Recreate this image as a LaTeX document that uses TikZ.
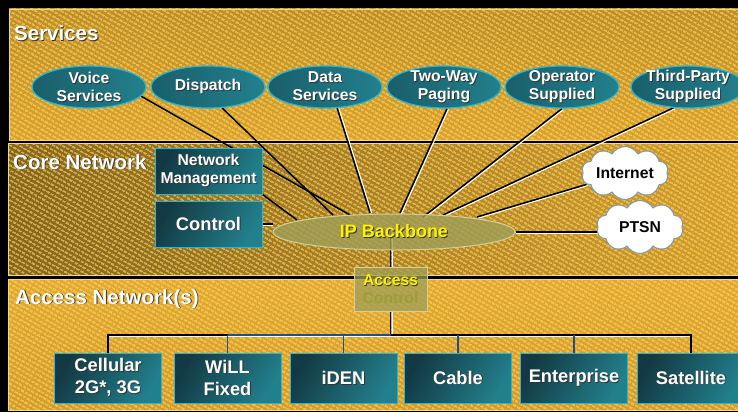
\documentclass[tikz,border=0pt]{standalone}
\usepackage{fontspec}
\setmainfont{Liberation Sans}
\usetikzlibrary{shapes.geometric,shapes.symbols,patterns.meta,calc}

% palette
\definecolor{svcTop}{HTML}{BE8E24}
\definecolor{svcBot}{HTML}{DCA22A}
\definecolor{coreL}{HTML}{85651A}
\definecolor{coreR}{HTML}{D69E2A}
\definecolor{accTop}{HTML}{E3A92E}
\definecolor{accBot}{HTML}{D49C28}
\definecolor{stripe}{HTML}{FFD458}
\definecolor{panelEdge}{HTML}{F2D98A}
\definecolor{tealDark}{HTML}{133A44}
\definecolor{tealLight}{HTML}{22808C}
\definecolor{tealSvcL}{HTML}{195F6B}
\definecolor{tealSvcR}{HTML}{22808C}
\definecolor{cyanEdge}{HTML}{27B6D6}
\definecolor{oliveFill}{HTML}{9E9E58}
\definecolor{oliveEdge}{HTML}{D0D09A}
\definecolor{cloudEdge}{HTML}{7C9AAA}
\definecolor{busBlue}{HTML}{1F4F8C}
\definecolor{dimText}{HTML}{9C9C3C}

\pgfdeclarelayer{panels}
\pgfdeclarelayer{wires}
\pgfsetlayers{panels,wires,main}

% text with a small drop shadow
\newcommand\shd[1]{\leavevmode\rlap{\kern0.9pt\raisebox{-0.9pt}{\textcolor{black!80}{#1}}}#1}
\newcommand\ftitle{\fontsize{20.5}{24}\selectfont\bfseries}
\newcommand\fsvc{\fontsize{15.7}{18}\selectfont\bfseries}
\newcommand\fmid{\fontsize{18.3}{22}\selectfont\bfseries}
\newcommand\fbb{\fontsize{18}{20}\selectfont\bfseries}

\tikzset{
  paneledge/.style={draw=panelEdge, line width=0.8pt},
  stripes/.style={pattern={Lines[angle=-30,distance=4pt,line width=1.6pt]}, pattern color=stripe, fill opacity=0.65},
  title/.style={anchor=base west, text=white, font=\ftitle, inner sep=0pt},
  svc/.style={ellipse, draw=cyanEdge, line width=1.2pt, left color=tealSvcL, right color=tealSvcR,
    minimum width=114pt, minimum height=42pt, inner sep=0pt},
  svctext/.style={text=white, font=\fsvc, align=center, inner sep=0pt},
  tealbox/.style={rectangle, draw=cyanEdge, line width=1pt, left color=tealDark, right color=tealLight,
    shading angle=60, minimum width=107pt, inner sep=0pt, text=white, align=center},
  cloudnode/.style={cloud, cloud puffs=10, cloud puff arc=120, aspect=1.6, draw=cloudEdge, line width=1pt,
    fill=white, minimum width=87pt, minimum height=53pt, inner sep=0pt},
  cloudtext/.style={text=black, font=\fsvc, inner sep=0pt},
  wire/.style={draw=black, line width=1.5pt},
  bluewire/.style={draw=busBlue, line width=1.5pt},
  hl/.style={preaction={draw=white, line width=1.2pt, transform canvas={xshift=1.3pt, yshift=-1.0pt}}},
  hlr/.style={preaction={draw=white, line width=1.2pt, transform canvas={xshift=1.6pt}}},
  hlb/.style={preaction={draw=white, line width=1.2pt, transform canvas={yshift=-1.6pt}}},
}

\begin{document}
\begin{tikzpicture}[x=1pt,y=-1pt]
\useasboundingbox (0,0) rectangle (738,412);

% ---------- background bands ----------
\begin{pgfonlayer}{panels}
  \fill[black] (0,0) rectangle (738,412);
  % services
  \shade[top color=svcTop, bottom color=svcBot] (9,9) rectangle (746,140);
  \fill[stripes] (9,9) rectangle (746,140);
  \draw[paneledge] (9,9) rectangle (746,140);
  % core network
  \shade[left color=coreL, right color=coreR] (8,143) rectangle (746,275);
  \fill[stripes] (8,143) rectangle (746,275);
  \draw[paneledge] (8,143) rectangle (746,275);
  % access network
  \shade[top color=accTop, bottom color=accBot] (8,279) rectangle (746,410);
  \fill[stripes] (8,279) rectangle (746,410);
  \draw[paneledge] (8,279) rectangle (746,410);
\end{pgfonlayer}

% ---------- band titles ----------
\node[title] (tServices) at (14,41) {\shd{Services}};
\node[title] (tCore) at (13,169) {\shd{Core Network}};
\node[title] (tAccess) at (15,304) {\shd{Access Network(s)}};

% ---------- services ----------
\node[svc, label={[svctext]center:{\shd{Voice}\\\shd{Services}}}] (voice) at (89,87) {};
\node[svc, label={[svctext]center:{\shd{Dispatch}}}] (dispatch) at (208,87) {};
\node[svc, label={[svctext]center:{\shd{Data}\\\shd{Services}}}] (data) at (325,87) {};
\node[svc, label={[svctext]center:{\shd{Two-Way}\\\shd{Paging}}}] (paging) at (444,87) {};
\node[svc, label={[svctext]center:{\shd{Operator}\\\shd{Supplied}}}] (operator) at (562,87) {};
\node[svc, label={[svctext]center:{\shd{Third-Party}\\\shd{Supplied}}}] (third) at (688,87) {};

% ---------- core network ----------
\node[tealbox, minimum height=46pt, font=\fsvc] (nm) at (208.5,171) {\shd{Network}\\\shd{Management}};
\node[tealbox, minimum height=46pt, font=\fmid] (control) at (208.5,224) {\shd{Control}};

\node[ellipse, draw=oliveEdge, line width=1pt, fill=oliveFill, fill opacity=0.8,
      minimum width=242pt, minimum height=36pt, inner sep=0pt,
      label={[text=yellow, font=\fbb, inner sep=0pt]center:{\shd{IP Backbone}}}] (bb) at (394,232) {};

\node[cloudnode, label={[cloudtext]center:{Internet}}] (internet) at (625,173) {};
\node[cloudnode, label={[cloudtext]center:{PTSN}}] (ptsn) at (640,227) {};

\node[rectangle, draw=oliveEdge, line width=0.8pt, fill=oliveFill, fill opacity=0.75,
      minimum width=73pt, minimum height=44pt, inner sep=0pt, align=center,
      font=\fsvc, text opacity=1] (ac) at (390.5,289)
      {\textcolor{yellow}{\shd{Access}}\\\textcolor{dimText}{Control}};

% ---------- access networks ----------
\node[tealbox, minimum height=50pt, font=\fmid] (cell) at (108,378) {\shd{Cellular}\\\shd{2G*, 3G}};
\node[tealbox, minimum height=50pt, font=\fmid] (will) at (227.5,378) {\shd{WiLL}\\\shd{Fixed}};
\node[tealbox, minimum height=50pt, font=\fmid] (iden) at (343.5,378) {\shd{iDEN}};
\node[tealbox, minimum height=50pt, font=\fmid] (cable) at (458,378) {\shd{Cable}};
\node[tealbox, minimum height=50pt, font=\fmid] (ent) at (574,378) {\shd{Enterprise}};
\node[tealbox, minimum height=50pt, font=\fmid] (sat) at (691,378) {\shd{Satellite}};

% ---------- wire end points on the backbone ----------
\coordinate (eVoice) at ($(bb.center)+(-44,-17)$);
\coordinate (eNM) at ($(bb.center)+(-97,-12)$);
\coordinate (eDispatch) at ($(bb.center)+(-61,-17)$);
\coordinate (eData) at ($(bb.center)+(-24,-19)$);
\coordinate (ePaging) at ($(bb.center)+(6,-19)$);
\coordinate (eOperator) at ($(bb.center)+(29,-15)$);
\coordinate (eThird) at ($(bb.center)+(49,-17)$);
\coordinate (eInternet) at ($(bb.center)+(83,-15)$);
\coordinate (busY) at (0,335);

% ---------- wiring ----------
\begin{pgfonlayer}{wires}
  \draw[wire] (voice.-10) -- (eVoice);
  \draw[wire] (dispatch.-56) -- (eDispatch);
  \draw[wire] (nm.south east) -- (eNM);
  \draw[wire,hlr] (data.-60) -- (eData);
  \draw[wire,hl] (paging.-82) -- (ePaging);
  \draw[wire,hl] (operator.south) -- (eOperator);
  \draw[wire,hl] (third.-125) -- (eThird);
  \draw[wire,hl] (internet) -- (eInternet);
  \draw[wire,hlb] (bb.east) -- (bb.east -| ptsn.center);
  \draw[wire,hlb] (control.east) -- (control.east -| bb.west);
  \draw[wire,hlr] (bb.center -| ac.north) -- (ac.north);
  \draw[wire,hlr] (ac.south) -- (ac.south |- busY);
  % access bus
  \draw[wire,hlb] (cell.north) -- (cell.north |- busY) -- (will.north |- busY);
  \draw[bluewire,hlb] (will.north |- busY) -- (ac.south |- busY);
  \draw[wire,hlb] (ac.south |- busY) -- (sat.north |- busY) -- (sat.north);
  \draw[bluewire] (will.north |- busY) -- (will.north);
  \draw[bluewire] (iden.north |- busY) -- (iden.north);
  \draw[bluewire] (cable.north |- busY) -- (cable.north);
  \draw[bluewire] (ent.north |- busY) -- (ent.north);
\end{pgfonlayer}
\end{tikzpicture}
\end{document}
